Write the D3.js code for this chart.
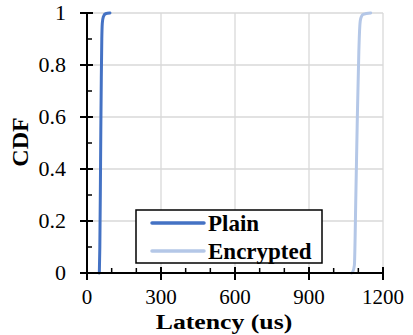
<!DOCTYPE html>
<html>
<head>
<meta charset="utf-8">
<script src="https://cdn.jsdelivr.net/npm/d3@7"></script>
<style>
  body { margin: 0; background: #fff; }
  svg { display: block; }
</style>
</head>
<body>
<div id="vis"></div>
<script>
// CDF points: [latency us, cdf]
var plainLatency = [50, 52, 54, 56, 58, 60, 62, 66, 75, 93];
var plainCdf     = [0, 0.1, 0.3, 0.55, 0.75, 0.9, 0.96, 0.985, 0.997, 1];
var encLatency   = [1073, 1078, 1084, 1090, 1096, 1102, 1106, 1110, 1120, 1150];
var encCdf       = [0, 0.005, 0.03, 0.3, 0.6, 0.85, 0.95, 0.98, 0.995, 1];
var seriesNames  = ["Plain", "Encrypted"];
var seriesColors = ["#4472C4", "#B4C7E7"];
var xTicks = [0, 300, 600, 900, 1200];
var yTicks = [0, 0.2, 0.4, 0.6, 0.8, 1];

var margin = {top: 13, right: 30, bottom: 62, left: 87};
var W = 413, H = 335;
var width = W - margin.left - margin.right;
var height = H - margin.top - margin.bottom;
var serif = "'Liberation Serif', 'Times New Roman', Times, serif";

var svg = d3.select("#vis").append("svg")
  .attr("width", W)
  .attr("height", H)
  .attr("font-family", serif)
  .style("font-family", serif);

var g = svg.append("g")
  .attr("transform", "translate(" + margin.left + "," + margin.top + ")");

var x = d3.scaleLinear().domain([0, 1200]).range([0, width]);
var y = d3.scaleLinear().domain([0, 1]).range([height, 0]);

// gridlines
g.append("g").selectAll("line")
  .data(yTicks.slice(1))
  .enter().append("line")
  .attr("x1", 0).attr("x2", width)
  .attr("y1", function(d) { return y(d); })
  .attr("y2", function(d) { return y(d); })
  .attr("stroke", "#d9d9d9").attr("stroke-width", 1.3);

g.append("g").selectAll("line")
  .data(xTicks.slice(1))
  .enter().append("line")
  .attr("y1", 0).attr("y2", height)
  .attr("x1", function(d) { return x(d); })
  .attr("x2", function(d) { return x(d); })
  .attr("stroke", "#d9d9d9").attr("stroke-width", 1.3);

// lines
var data = [
  d3.zip(plainLatency, plainCdf),
  d3.zip(encLatency, encCdf)
];
var line = d3.line()
  .x(function(d) { return x(d[0]); })
  .y(function(d) { return y(d[1]); })
  .curve(d3.curveMonotoneX);

g.append("g").selectAll("path")
  .data(data)
  .enter().append("path")
  .attr("d", line)
  .attr("fill", "none")
  .attr("stroke", function(d, i) { return seriesColors[i]; })
  .attr("stroke-width", 3)
  .attr("stroke-linecap", "round");

// x axis
var xAxis = g.append("g")
  .attr("transform", "translate(0," + height + ")");
xAxis.append("line")
  .attr("x1", 0).attr("x2", width)
  .attr("stroke", "#000").attr("stroke-width", 2);
xAxis.selectAll(".minor")
  .data(d3.range(100, 1201, 100).filter(function(d) { return d % 300; }))
  .enter().append("line")
  .attr("x1", function(d) { return x(d); }).attr("x2", function(d) { return x(d); })
  .attr("y1", -5).attr("y2", 0)
  .attr("stroke", "#000").attr("stroke-width", 1.5);
xAxis.selectAll(".major")
  .data(xTicks)
  .enter().append("line")
  .attr("x1", function(d) { return x(d); }).attr("x2", function(d) { return x(d); })
  .attr("y1", -6).attr("y2", 7)
  .attr("stroke", "#000").attr("stroke-width", 2);
xAxis.selectAll("text")
  .data(xTicks)
  .enter().append("text")
  .attr("x", function(d) { return x(d); })
  .attr("y", 31)
  .attr("text-anchor", "middle")
  .attr("font-size", 21)
  .text(function(d) { return d; });

// y axis
var yAxis = g.append("g");
yAxis.append("line")
  .attr("y1", 0).attr("y2", height)
  .attr("stroke", "#000").attr("stroke-width", 2);
yAxis.selectAll(".minor")
  .data(d3.range(0.1, 1, 0.2))
  .enter().append("line")
  .attr("y1", function(d) { return y(d); }).attr("y2", function(d) { return y(d); })
  .attr("x1", 0).attr("x2", 5)
  .attr("stroke", "#000").attr("stroke-width", 1.5);
yAxis.selectAll(".major")
  .data(yTicks)
  .enter().append("line")
  .attr("y1", function(d) { return y(d); }).attr("y2", function(d) { return y(d); })
  .attr("x1", -7).attr("x2", 6)
  .attr("stroke", "#000").attr("stroke-width", 2);
yAxis.selectAll("text")
  .data(yTicks)
  .enter().append("text")
  .attr("x", -21)
  .attr("y", function(d) { return y(d); })
  .attr("dy", "0.33em")
  .attr("text-anchor", "end")
  .attr("font-size", 22)
  .text(function(d) { return d; });

// axis titles
svg.append("text")
  .attr("transform", "translate(224,329) scale(1.17,1)")
  .attr("text-anchor", "middle")
  .attr("font-size", 22)
  .attr("font-weight", "bold")
  .text("Latency (us)");

svg.append("text")
  .attr("transform", "translate(28,142) rotate(-90)")
  .attr("text-anchor", "middle")
  .attr("font-size", 24)
  .attr("font-weight", "bold")
  .text("CDF");

// legend
var legend = svg.append("g").attr("transform", "translate(136,210)");
legend.append("rect")
  .attr("width", 186).attr("height", 53)
  .attr("fill", "#fff")
  .attr("stroke", "#000").attr("stroke-width", 1.5);
var items = legend.selectAll(".item")
  .data(seriesNames)
  .enter().append("g")
  .attr("transform", function(d, i) { return "translate(0," + (13 + i * 28) + ")"; });
items.append("line")
  .attr("x1", 16).attr("x2", 68)
  .attr("stroke", function(d, i) { return seriesColors[i]; })
  .attr("stroke-width", 3.5)
  .attr("stroke-linecap", "round");
items.append("text")
  .attr("x", 72).attr("dy", "0.33em")
  .attr("font-size", 23)
  .attr("font-weight", "bold")
  .text(function(d) { return d; });
</script>
</body>
</html>
